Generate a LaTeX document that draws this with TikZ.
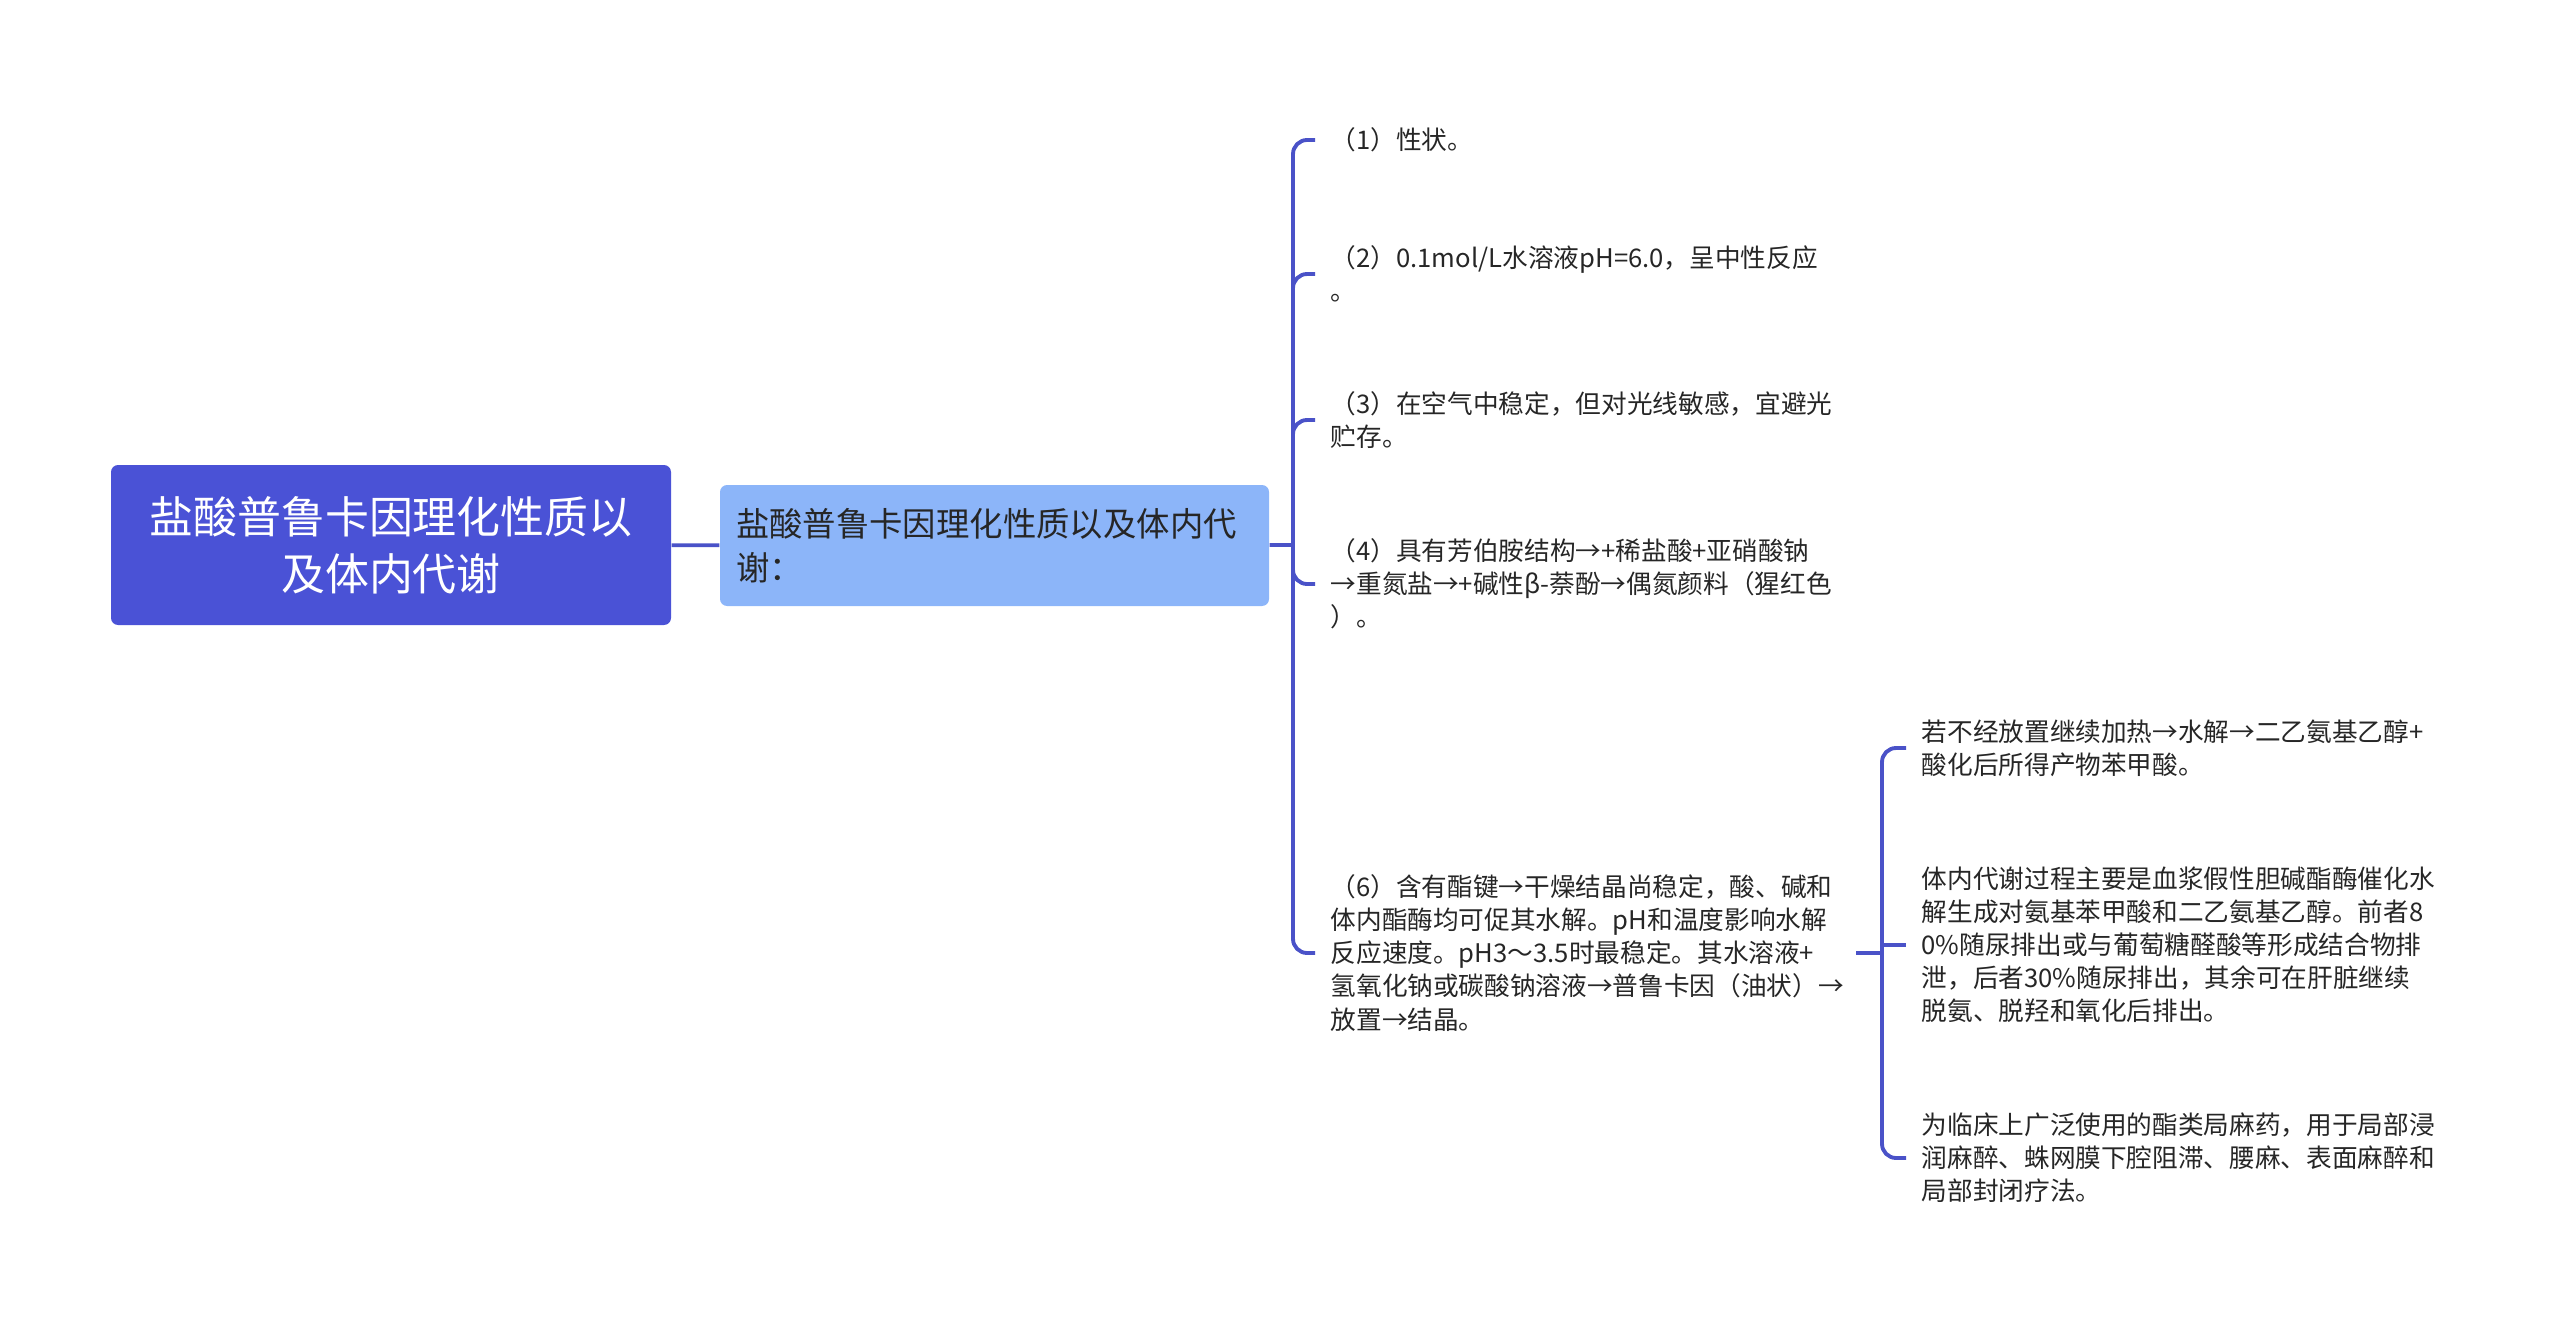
\documentclass[tikz,border=0pt]{standalone}
\usepackage{fontspec}
\setmainfont{Noto Sans CJK SC}
\usepackage{xcolor}

\definecolor{rootblue}{HTML}{4A52D6}
\definecolor{midblue}{HTML}{8CB5F9}
\definecolor{linkblue}{HTML}{4A52C8}
\definecolor{leaftext}{HTML}{262626}

\tikzset{
  rootbox/.style={rectangle, rounded corners=2pt, fill=rootblue, text=white, align=center,
    minimum width=5.6cm, minimum height=1.6cm, font=\fontsize{12.5}{16.2}\selectfont},
  midbox/.style={rectangle, rounded corners=2pt, fill=midblue, text=leaftext, align=left,
    text width=5.17cm, inner xsep=0.16cm, minimum height=1.21cm, font=\fontsize{9.5}{12.5}\selectfont},
  leaf/.style={anchor=west, align=left, text width=5.1cm, inner xsep=0.15cm, inner ysep=0pt,
    text=leaftext, font=\fontsize{7.3}{9.4}\selectfont},
  link/.style={draw=linkblue, line width=1.1pt, rounded corners=4pt}
}

\begin{document}
\begin{tikzpicture}
\useasboundingbox (0,0) rectangle (25.6,-13.31);

\node[rootbox] (root) at (3.91,-5.45) {盐酸普鲁卡因理化性质以\\及体内代谢};
\node[midbox] (mid) at (9.945,-5.455) {盐酸普鲁卡因理化性质以及体内代\\谢：};

\coordinate (trunk) at (12.93,-5.45);
\node[leaf] (c1) at (13.15,-1.40) {（1）性状。};
\node[leaf] (c2) at (13.15,-2.74) {（2）0.1mol/L水溶液pH=6.0，呈中性反应\\。};
\node[leaf] (c3) at (13.15,-4.20) {（3）在空气中稳定，但对光线敏感，宜避光\\贮存。};
\node[leaf] (c4) at (13.15,-5.84) {（4）具有芳伯胺结构→+稀盐酸+亚硝酸钠\\→重氮盐→+碱性β-萘酚→偶氮颜料（猩红色\\）。};
\node[leaf] (c6) at (13.15,-9.53) {（6）含有酯键→干燥结晶尚稳定，酸、碱和\\体内酯酶均可促其水解。pH和温度影响水解\\反应速度。pH3～3.5时最稳定。其水溶液+\\氢氧化钠或碳酸钠溶液→普鲁卡因（油状）→\\放置→结晶。};

\coordinate (subtrunk) at (18.82,-9.53);
\node[leaf, text width=5.3cm] (s1) at (19.06,-7.48) {若不经放置继续加热→水解→二乙氨基乙醇+\\酸化后所得产物苯甲酸。};
\node[leaf, text width=5.3cm] (s2) at (19.06,-9.45) {体内代谢过程主要是血浆假性胆碱酯酶催化水\\解生成对氨基苯甲酸和二乙氨基乙醇。前者8\\0\%随尿排出或与葡萄糖醛酸等形成结合物排\\泄，后者30\%随尿排出，其余可在肝脏继续\\脱氨、脱羟和氧化后排出。};
\node[leaf, text width=5.3cm] (s3) at (19.06,-11.58) {为临床上广泛使用的酯类局麻药，用于局部浸\\润麻醉、蛛网膜下腔阻滞、腰麻、表面麻醉和\\局部封闭疗法。};

\draw[link] (root) -- (mid);
\draw[link] (mid) -- (trunk);
\draw[link] (trunk) |- (c1.west);
\draw[link] (trunk) |- (c2.west);
\draw[link] (trunk) |- (c3.west);
\draw[link] (trunk) |- (c4.west);
\draw[link] (trunk) |- (c6.west);

\draw[link] (c6.east) -- (subtrunk);
\draw[link] (subtrunk) |- (s1.west);
\draw[link] (subtrunk |- s2.west) -- (s2.west);
\draw[link] (subtrunk) |- (s3.west);
\end{tikzpicture}
\end{document}
